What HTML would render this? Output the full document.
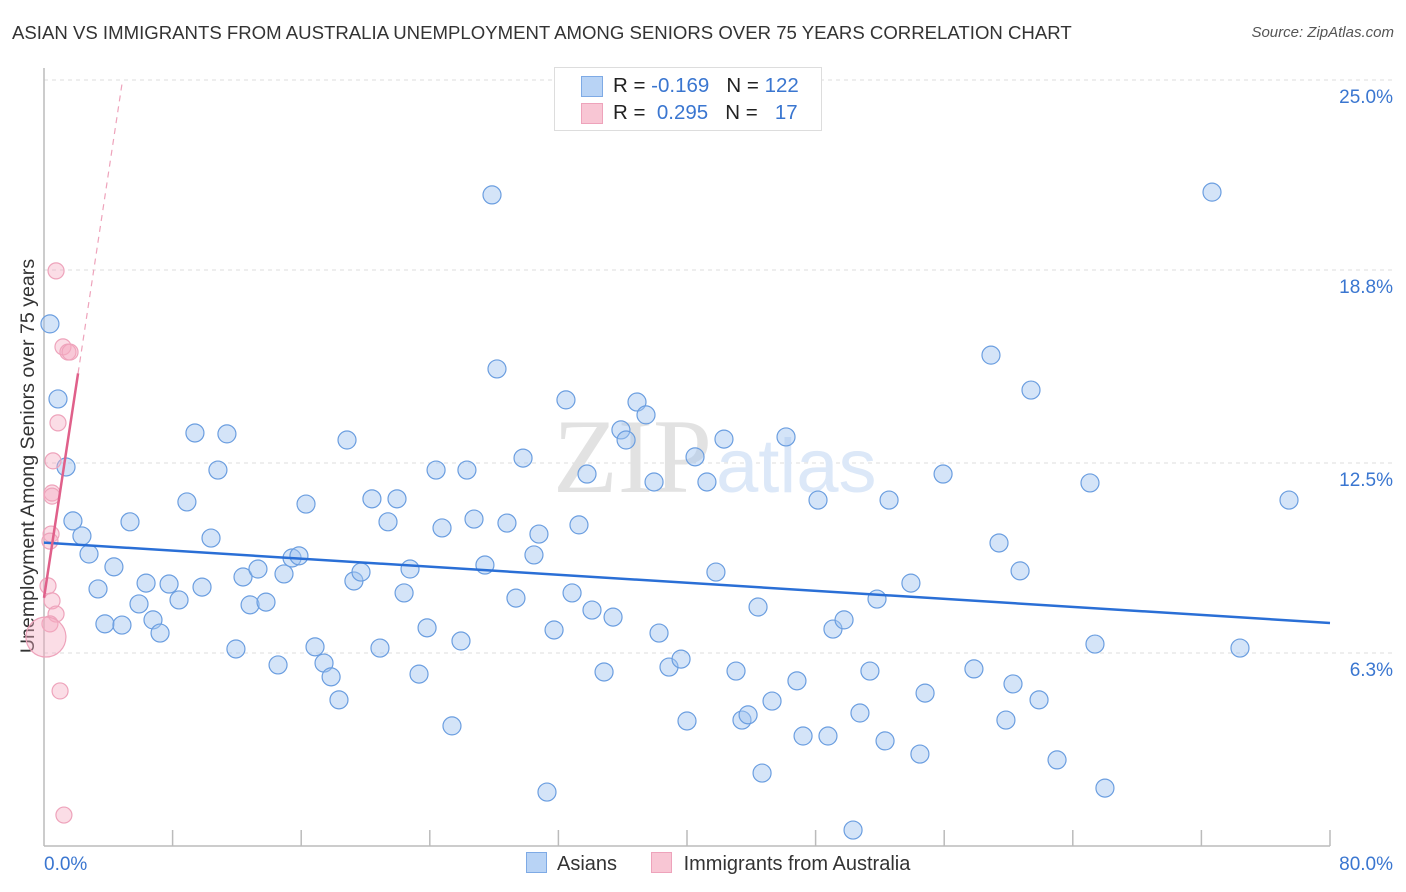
<!DOCTYPE html>
<html><head><meta charset="utf-8">
<style>
body{margin:0;background:#fff;font-family:"Liberation Sans",sans-serif;}
#wrap{position:relative;width:1406px;height:892px;overflow:hidden;}
</style></head>
<body>
<div id="wrap">
<div style="position:absolute;left:12px;top:22px;font-size:18.6px;color:#333;">ASIAN VS IMMIGRANTS FROM AUSTRALIA UNEMPLOYMENT AMONG SENIORS OVER 75 YEARS CORRELATION CHART</div>
<div style="position:absolute;right:12px;top:24px;font-size:15px;color:#555;font-style:italic;">Source: ZipAtlas.com</div>
<svg id="svg" width="1406" height="892" style="position:absolute;left:0;top:0"></svg>
</div>
<script>
const blueX=[0.37,0.87,1.37,1.80,2.36,2.80,3.36,3.79,4.35,4.85,5.35,5.91,6.35,6.78,7.22,7.78,8.40,8.89,9.39,9.83,10.39,10.82,11.38,11.94,12.38,12.82,13.31,13.81,14.56,14.93,15.43,15.86,16.30,16.86,17.42,17.86,18.35,18.85,19.28,19.72,20.40,20.90,21.40,21.96,22.40,22.77,23.33,23.83,24.39,24.76,25.38,25.94,26.31,26.75,27.43,27.87,28.18,28.80,29.36,29.80,30.48,30.79,31.29,31.73,32.47,32.85,33.28,33.78,34.09,34.84,35.40,35.89,36.21,36.89,37.45,37.95,38.26,38.88,39.63,40.00,40.50,41.24,41.80,42.30,43.05,43.42,43.80,44.42,44.67,45.29,46.16,46.84,47.22,48.15,48.77,49.08,49.77,50.33,50.76,51.38,51.82,52.32,52.57,53.93,54.49,54.81,55.93,57.85,58.91,59.41,59.84,60.28,60.72,61.40,61.90,63.02,65.07,65.38,66.00,72.66,74.40,77.45];
const blueY=[17.04,14.59,12.37,10.61,10.12,9.53,8.39,7.25,9.11,7.21,10.58,7.90,8.58,7.38,6.95,8.55,8.03,11.23,13.48,8.45,10.05,12.27,13.45,6.43,8.78,7.87,9.04,7.96,5.91,8.88,9.40,9.47,11.16,6.50,5.97,5.52,4.77,13.25,8.65,8.94,11.33,6.46,10.58,11.33,8.26,9.04,5.61,7.12,12.27,10.38,3.92,6.69,12.27,10.67,9.17,21.25,15.57,10.54,8.09,12.66,9.50,10.18,1.76,7.05,14.56,8.26,10.48,12.14,7.70,5.68,7.47,13.58,13.25,14.49,14.07,11.88,6.95,5.84,6.10,4.08,12.70,11.88,8.94,13.28,5.71,4.11,4.28,7.80,2.38,4.73,13.35,5.39,3.59,11.29,3.59,7.08,7.38,0.52,4.34,5.71,8.06,3.43,11.29,8.58,3.00,4.99,12.14,5.78,16.02,9.89,4.11,5.29,8.98,14.88,4.77,2.81,11.85,6.59,1.89,21.34,6.46,11.29];
const pinkX=[0.75,1.18,1.49,1.62,0.87,0.56,0.50,0.50,0.44,0.37,0.25,0.50,0.75,0.37,0.12,1.00,1.24];
const pinkY=[18.77,16.29,16.12,16.12,13.81,12.57,11.52,11.42,10.18,9.95,8.49,8.00,7.57,7.25,6.82,5.06,1.01];
const pinkR=[8,8,8,8,8,8,8,8,8,8,8,8,8,8,20,8,8];
const yTicks=[25.0,18.8,12.5,6.3];
const yTickLabels=["25.0%","18.8%","12.5%","6.3%"];
const xTickVals=[0,8,16,24,32,40,48,56,64,72,80];

const L=44,R=1330,T=80,B=846;
const sx=v=>L+(v/80)*(R-L);
const sy=v=>B-(v/25)*(B-T);
const NS="http://www.w3.org/2000/svg";
const svg=document.getElementById('svg');
function mk(t,a,p){const e=document.createElementNS(NS,t);for(const k in a)e.setAttribute(k,a[k]);(p||svg).appendChild(e);return e;}

yTicks.forEach((v,i)=>{
 const g=mk('line',{x1:L,x2:1395,y1:sy(v),y2:sy(v),stroke:'#ddd','stroke-dasharray':'4,4'});
 
 
 const t=mk('text',{x:1393,y:sy(v)+23,'text-anchor':'end','font-size':19,fill:'#3a76d0','font-family':'Liberation Sans, sans-serif'});
 t.textContent=yTickLabels[i];
 
 
});
const ya=mk('line',{x1:L,x2:L,y1:68,y2:B,stroke:'#bbb','stroke-width':1.5});


const xa=mk('line',{x1:L,x2:R,y1:B,y2:B,stroke:'#bbb','stroke-width':1.5});


xTickVals.forEach(v=>{
 if(v===0)return;
 const tk=mk('line',{x1:sx(v),x2:sx(v),y1:B-16,y2:B,stroke:'#bbb','stroke-width':1.5});
 
 
});
const xl0=mk('text',{x:44,y:870,'font-size':19,fill:'#3a76d0','font-family':'Liberation Sans, sans-serif'});
xl0.textContent='0.0%';


const xl1=mk('text',{x:1393,y:870,'text-anchor':'end','font-size':19,fill:'#3a76d0','font-family':'Liberation Sans, sans-serif'});
xl1.textContent='80.0%';


const yt=mk('text',{x:34,y:456,'text-anchor':'middle','font-size':19.6,fill:'#333',transform:'rotate(-90 34 456)','font-family':'Liberation Sans, sans-serif'});
yt.textContent='Unemployment Among Seniors over 75 years';



const wm=mk('text',{x:553,y:492,'font-size':106,fill:'#e2e2e2','font-family':'Liberation Serif, serif'});
wm.textContent='ZIP';


const wm2=mk('text',{x:716,y:492,'font-size':76,fill:'#dce8f8','font-family':'Liberation Sans, sans-serif'});
wm2.textContent='atlas';



function fit(xs,ys){const n=xs.length;let mx=0,my=0;for(let i=0;i<n;i++){mx+=xs[i];my+=ys[i];}mx/=n;my/=n;let sxy=0,sxx=0;for(let i=0;i<n;i++){sxy+=(xs[i]-mx)*(ys[i]-my);sxx+=(xs[i]-mx)**2;}const b=sxy/sxx;return [my-b*mx,b];}

blueX.forEach((x,i)=>{
 const c=mk('circle',{cx:sx(x),cy:sy(blueY[i]),r:9,fill:'rgba(160,196,240,0.45)',stroke:'#6b9ee0','stroke-width':1.2});
 
 
});
pinkX.forEach((x,i)=>{
 const c=mk('circle',{cx:sx(x),cy:sy(pinkY[i]),r:pinkR[i],fill:'rgba(245,170,192,0.4)',stroke:'#eea3bb','stroke-width':1.2});
 
 
});
const [ba,bb]=fit(blueX,blueY);
const bl=mk('line',{x1:sx(0),y1:sy(ba),x2:sx(80),y2:sy(ba+bb*80),stroke:'#2a6fd6','stroke-width':2.5});


const [pa,pb]=fit(pinkX,pinkY);
const pxMax=Math.max(...pinkX)+0.5;
const pl=mk('line',{x1:sx(0),y1:sy(pa),x2:sx(pxMax),y2:sy(pa+pb*pxMax),stroke:'#e0608a','stroke-width':2.5});


const xEnd=pb>0?Math.min(80,(25-pa)/pb):80;
const pd=mk('line',{x1:sx(pxMax),y1:sy(pa+pb*pxMax),x2:sx(xEnd),y2:sy(pa+pb*xEnd),stroke:'#eea3bb','stroke-width':1.2,'stroke-dasharray':'6,5'});


</script>
<div style="position:absolute;left:554px;top:67px;width:266px;height:62px;border:1px solid #ddd;background:#fff;font-size:20.5px;">
 <div style="position:absolute;left:26px;top:8px;width:20px;height:19px;background:#b8d3f5;border:1px solid #7eaae5;"></div>
 <div style="position:absolute;left:58px;top:6px;white-space:pre;color:#222;">R = <span style="color:#3a76d0">-0.169</span>   N = <span style="color:#3a76d0">122</span></div>
 <div style="position:absolute;left:26px;top:35px;width:20px;height:19px;background:#f8c6d4;border:1px solid #eea3bb;"></div>
 <div style="position:absolute;left:58px;top:33px;white-space:pre;color:#222;">R =  <span style="color:#3a76d0">0.295</span>   N =   <span style="color:#3a76d0">17</span></div>
</div>
<div style="position:absolute;left:526px;top:852px;font-size:20px;color:#333;white-space:nowrap;">
 <span><span style="display:inline-block;width:19px;height:19px;background:#b8d3f5;border:1px solid #7eaae5;vertical-align:-3px;margin-right:10px;"></span>Asians</span>
 <span style="margin-left:28px;"><span style="display:inline-block;width:19px;height:19px;background:#f8c6d4;border:1px solid #eea3bb;vertical-align:-3px;margin-right:12px;"></span>Immigrants from Australia</span>
</div>
</body></html>
